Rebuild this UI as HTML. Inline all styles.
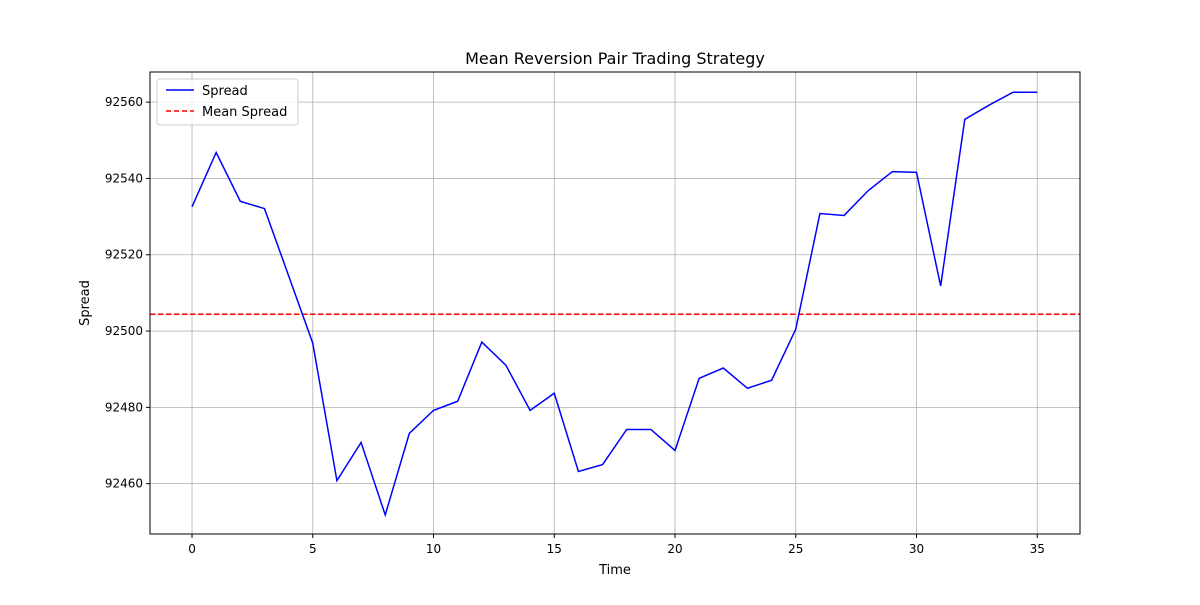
<!DOCTYPE html>
<html><head><meta charset="utf-8"><style>
body{margin:0;background:#fff;font-family:"Liberation Sans","DejaVu Sans",sans-serif;}
svg text{font-family:"DejaVu Sans","Liberation Sans",sans-serif;}
</style></head><body>
<svg id="chart" width="1200" height="600" xmlns="http://www.w3.org/2000/svg">
<rect width="1200" height="600" fill="#fff"/>
<g id="grid"></g>
<g id="ticks"></g>
<text x="615" y="64" font-size="16" text-anchor="middle">Mean Reversion Pair Trading Strategy</text>
<text x="615" y="574" font-size="13" text-anchor="middle">Time</text>
<text transform="translate(89,303) rotate(-90)" font-size="13" text-anchor="middle">Spread</text>
<g id="marks"></g>
<rect x="150" y="72" width="930" height="462" fill="none" stroke="#000" stroke-width="1"/>
<g>
<rect x="157" y="79" width="141" height="46" rx="3" fill="#fff" fill-opacity="0.8" stroke="#ccc"/>
<line x1="166" y1="90" x2="194" y2="90" stroke="#0000ff" stroke-width="1.5"/>
<text x="202" y="95" font-size="13">Spread</text>
<line x1="166" y1="111" x2="194" y2="111" stroke="#ff0000" stroke-width="1.5" stroke-dasharray="5,3"/>
<text x="202" y="116" font-size="13">Mean Spread</text>
</g>
</svg>
<script>
const times=[0,1,2,3,4,5,6,7,8,9,10,11,12,13,14,15,16,17,18,19,20,21,22,23,24,25,26,27,28,29,30,31,32,33,34,35];
const spread=[92532.6,92546.8,92534,92532.1,92514.5,92496.8,92460.8,92470.8,92451.8,92473.2,92479.2,92481.6,92497.1,92491,92479.2,92483.7,92463.2,92465,92474.2,92474.2,92468.7,92487.6,92490.3,92485,92487.1,92500.5,92530.8,92530.3,92536.8,92541.8,92541.6,92511.8,92555.5,92559.2,92562.6,92562.6];
const meanSpread=92504.4;
const xTicks=[0,5,10,15,20,25,30,35];
const yTicks=[92460,92480,92500,92520,92540,92560];
const NS='http://www.w3.org/2000/svg';
const X0=150,X1=1080,Y0=534,Y1=72,xMin=-1.74,xMax=36.77,yMin=92446.8,yMax=92567.9;
const sx=v=>X0+(v-xMin)/(xMax-xMin)*(X1-X0);
const sy=v=>Y0-(v-yMin)/(yMax-yMin)*(Y0-Y1);
function mk(tag,attrs,parent){const e=document.createElementNS(NS,tag);for(const k in attrs)e.setAttribute(k,attrs[k]);parent.appendChild(e);return e;}
const grid=document.getElementById('grid'),ticks=document.getElementById('ticks'),marks=document.getElementById('marks');
xTicks.forEach(t=>{const x=sx(t);
const g=mk('line',{x1:x,x2:x,y1:Y1,y2:Y0,stroke:'#b0b0b0','stroke-width':0.8},grid);


mk('line',{x1:x,x2:x,y1:Y0,y2:Y0+4,stroke:'#000'},ticks);
const tx=mk('text',{x:x,y:Y0+19,'font-size':12,'text-anchor':'middle'},ticks);tx.textContent=t;

});
yTicks.forEach(t=>{const y=sy(t);
const g=mk('line',{x1:X0,x2:X1,y1:y,y2:y,stroke:'#b0b0b0','stroke-width':0.8},grid);


mk('line',{x1:X0-4,x2:X0,y1:y,y2:y,stroke:'#000'},ticks);
const tx=mk('text',{x:X0-7,y:y+4,'font-size':12,'text-anchor':'end'},ticks);tx.textContent=t;

});
const ml=mk('line',{x1:X0,x2:X1,y1:sy(meanSpread),y2:sy(meanSpread),stroke:'#ff0000','stroke-width':1.5,'stroke-dasharray':'5.5,2.5'},marks);


const pl=mk('polyline',{points:times.map((t,i)=>sx(t)+','+sy(spread[i])).join(' '),fill:'none',stroke:'#0000ff','stroke-width':1.5},marks);


</script>
</body></html>
